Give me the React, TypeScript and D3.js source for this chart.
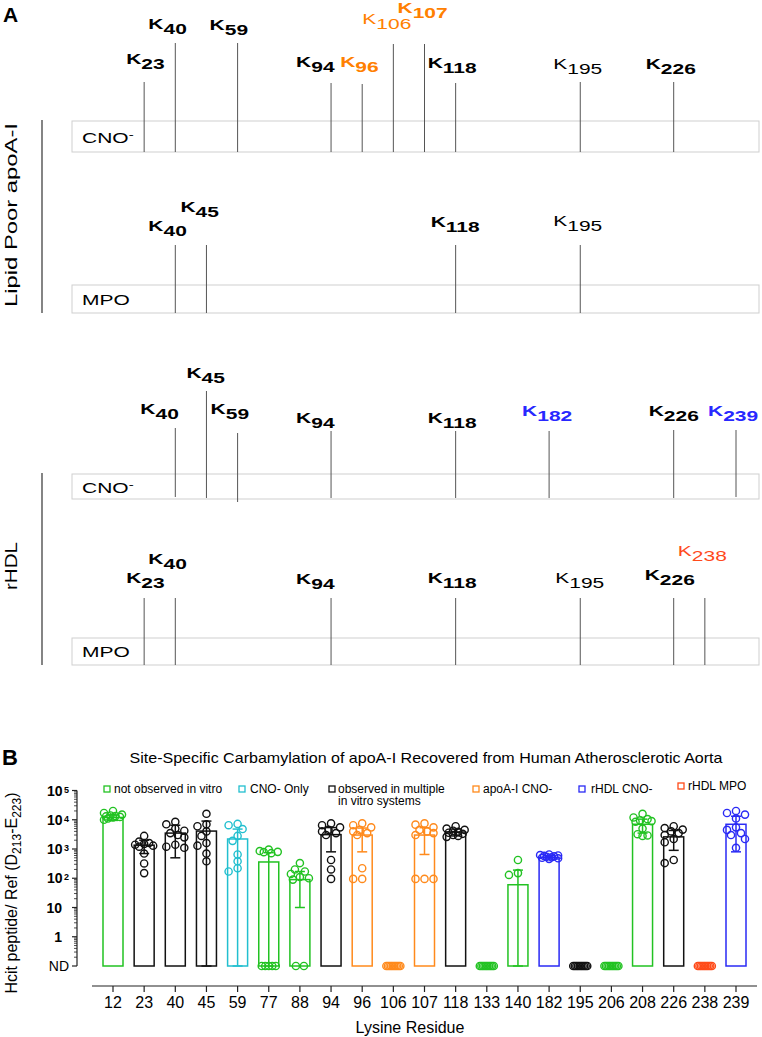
import React from 'react';
import * as d3 from 'd3';

// ---------- DATA ----------
const residues = [12, 23, 40, 45, 59, 77, 88, 94, 96, 106, 107, 118, 133, 140, 182, 195, 206, 208, 226, 238, 239];
const residueGroup = ['none', 'multi', 'multi', 'multi', 'cno', 'none', 'none', 'multi', 'apoCno', 'apoCno', 'apoCno', 'multi', 'none', 'none', 'rhdlCno', 'multi', 'none', 'none', 'multi', 'rhdlMpo', 'rhdlCno'];
const means = [12000, 1350, 3500, 4100, 2200, 360, 90, 3100, 3000, 0, 3000, 3800, 0, 60, 520, 0, 0, 7000, 2600, 0, 7000];
const sds = [2500, 650, 3000, 4900, 2600, 390, 80, 2300, 2200, 0, 2350, 1000, 0, 130, 70, 0, 0, 3500, 1700, 0, 6200];
const points: number[][] = [
  [20000, 17000, 15000, 14000, 13500, 13000, 12500, 12000, 11000, 10000],
  [2800, 1800, 1600, 1500, 1400, 1300, 1200, 700, 320, 150],
  [8500, 7000, 5000, 4200, 3500, 3000, 2500, 1400, 1200, 1100],
  [16000, 7000, 6000, 4000, 2800, 1600, 1300, 700, 380],
  [7200, 6500, 4800, 2800, 1900, 650, 380, 220, 170],
  [950, 850, 800, 780, 720, 0, 0, 0, 0, 0],
  [330, 200, 170, 140, 110, 100, 90, 0, 0],
  [7500, 6500, 5500, 4500, 4000, 3500, 3000, 420, 200, 95],
  [7500, 6500, 5500, 4500, 4000, 3500, 3000, 220, 95, 95],
  [0, 0, 0, 0, 0, 0, 0, 0, 0, 0],
  [7500, 6800, 5500, 4500, 4000, 3500, 3000, 95, 95, 95],
  [6000, 5000, 4500, 4200, 3900, 3600, 3300, 3000, 2800, 2600],
  [0, 0, 0, 0, 0, 0, 0, 0, 0, 0],
  [420, 150, 130],
  [650, 620, 600, 580, 560, 540, 520, 500, 480, 460],
  [0, 0, 0, 0, 0, 0, 0, 0, 0, 0],
  [0, 0, 0, 0, 0, 0, 0, 0, 0, 0],
  [16000, 12000, 10500, 9500, 9000, 8500, 5000, 3200, 2900, 2800],
  [6000, 5200, 4600, 4000, 3500, 3000, 2200, 1700, 420, 330],
  [0, 0, 0, 0, 0, 0, 0, 0, 0, 0],
  [20000, 17000, 15000, 11000, 5500, 4500, 3500, 3000, 2200, 1100],
];

const legendKeys = ['none', 'cno', 'multi', 'apoCno', 'rhdlCno', 'rhdlMpo'];
const legendLabels = [['not observed in vitro'], ['CNO- Only'], ['observed in multiple', 'in vitro systems'], ['apoA-I CNO-'], ['rHDL CNO-'], ['rHDL MPO']];
const yTickValues = [0.1, 1, 10, 100, 1000, 10000, 100000];

const chartTitle = 'Site-Specific Carbamylation of apoA-I Recovered from Human Atherosclerotic Aorta';
const xTitle = 'Lysine Residue';

// Panel A rows
const lpCnoRes = [23, 40, 59, 94, 96, 106, 107, 118, 195, 226];
const lpCnoGroup = ['multi', 'multi', 'multi', 'multi', 'apoCno', 'apoCno', 'apoCno', 'multi', 'multi', 'multi'];
const lpCnoBold = [1, 1, 1, 1, 1, 0, 1, 1, 0, 1];

const lpMpoRes = [40, 45, 118, 195];
const lpMpoGroup = ['multi', 'multi', 'multi', 'multi'];
const lpMpoBold = [1, 1, 1, 0];

const rhCnoRes = [40, 45, 59, 94, 118, 182, 226, 239];
const rhCnoGroup = ['multi', 'multi', 'multi', 'multi', 'multi', 'rhdlCno', 'multi', 'rhdlCno'];
const rhCnoBold = [1, 1, 1, 1, 1, 1, 1, 1];

const rhMpoRes = [23, 40, 94, 118, 195, 226, 238];
const rhMpoGroup = ['multi', 'multi', 'multi', 'multi', 'multi', 'multi', 'rhdlMpo'];
const rhMpoBold = [1, 1, 1, 1, 0, 1, 0];

// ---------- STYLE / LAYOUT ----------
const FONT = '"Liberation Sans", Arial, Helvetica, sans-serif';
const barColors: Record<string, string> = {
  none: '#22c222',
  cno: '#22bfcf',
  multi: '#111111',
  apoCno: '#ff8a1c',
  rhdlCno: '#2a2af5',
  rhdlMpo: '#ff4a18',
};
const labelColors: Record<string, string> = {
  multi: '#000000',
  apoCno: '#ff8000',
  rhdlCno: '#2828ff',
  rhdlMpo: '#ff4a1c',
};

const rowsLayout = [
  {
    res: lpCnoRes, group: lpCnoGroup, bold: lpCnoBold, name: 'CNO', sup: '-',
    box: [121, 152], nameY: 143,
    lineTop: [82, 43, 43, 83, 84, 44, 44, 83, 82, 82],
    lineBot: [152, 152, 152, 152, 152, 152, 152, 152, 152, 152],
    labY: [64, 29, 30, 67, 67, 24, 13, 68, 69, 69],
    labDx: [-18, -27, -28, -35, -22, -31, -27, -28, -27, -28],
  },
  {
    res: lpMpoRes, group: lpMpoGroup, bold: lpMpoBold, name: 'MPO', sup: '',
    box: [285, 313], nameY: 305,
    lineTop: [245, 245, 245, 245],
    lineBot: [313, 313, 313, 313],
    labY: [231, 212, 227, 226],
    labDx: [-27, -26, -25, -27],
  },
  {
    res: rhCnoRes, group: rhCnoGroup, bold: rhCnoBold, name: 'CNO', sup: '-',
    box: [474, 499], nameY: 493,
    lineTop: [428, 391, 433, 431, 431, 431, 430, 430],
    lineBot: [497, 498, 502, 498, 498, 498, 498, 497],
    labY: [414, 378, 414, 423, 423, 416, 416, 416],
    labDx: [-35, -20, -27, -35, -28, -27, -25, -28],
  },
  {
    res: rhMpoRes, group: rhMpoGroup, bold: rhMpoBold, name: 'MPO', sup: '',
    box: [638, 665], nameY: 657,
    lineTop: [598, 598, 598, 598, 598, 598, 598],
    lineBot: [665, 665, 665, 665, 665, 665, 665],
    labY: [583, 564, 584, 583, 583, 580, 556],
    labDx: [-18, -27, -35, -28, -25, -29, -27],
  },
];

const legendLayout = [
  { sx: 104, tx: 114, sy: 786 },
  { sx: 239, tx: 250, sy: 786 },
  { sx: 329, tx: 338, sy: 786 },
  { sx: 473, tx: 483, sy: 786 },
  { sx: 579, tx: 591, sy: 786 },
  { sx: 678, tx: 688, sy: 783 },
];

const R = 3.6;

function layoutPoints(vals: number[], y: (v: number) => number) {
  const nd = vals.filter((v) => v <= 0);
  const pos = vals.filter((v) => v > 0).sort((a, b) => b - a);
  const placed: { x: number; y: number; v: number }[] = [];
  const cands = [0, -5, 5, -9, 9, -2.5, 2.5, -7, 7];
  pos.forEach((v) => {
    const yy = y(v);
    let best = cands[0];
    let bestD = -1;
    for (const c of cands) {
      let md = Infinity;
      placed.forEach((p) => {
        const d = Math.hypot(p.x - c, p.y - yy);
        if (d < md) md = d;
      });
      if (md >= 6.5) { best = c; bestD = md; break; }
      if (md > bestD) { bestD = md; best = c; }
    }
    placed.push({ x: best, y: yy, v });
  });
  const n = nd.length;
  nd.forEach((v, i) => {
    const off = n === 1 ? 0 : -7 + (14 * i) / (n - 1);
    placed.push({ x: n === 2 ? (i === 0 ? -4 : 4) : off, y: y(0.1), v });
  });
  return placed;
}

export default function App() {
  const x = d3.scalePoint<string>().domain(residues.map(String)).range([113, 736]);
  const y = d3.scaleLog().domain([0.1, 100000]).range([966, 790.5]);
  const xr = (r: number) => x(String(r)) as number;

  const minorTicks: number[] = [];
  for (let k = -1; k <= 4; k++) for (let m = 2; m <= 9; m++) minorTicks.push(m * Math.pow(10, k));

  const labelK = (r: number, lx: number, ly: number, bold: number, color: string, key: string) => (
    <text key={key} transform={`translate(${lx},${ly}) scale(1.4,1)`} fontSize={15} fontWeight={bold ? 'bold' : 'normal'} fill={color} fontFamily={FONT}>
      <tspan>K</tspan>
      <tspan dy={5}>{r}</tspan>
    </text>
  );

  return (
    <svg width={762} height={1037} style={{ position: 'absolute', left: 0, top: 0, background: '#fff' }} fontFamily={FONT}>
      <rect x={0} y={0} width={762} height={1037} fill="#fff" />
      {/* Panel A */}
      <text x={3} y={22} fontSize={21} fontWeight="bold">A</text>
      <line x1={42} x2={42} y1={120} y2={313} stroke="#333" strokeWidth={1.2} />
      <line x1={42} x2={42} y1={473} y2={665} stroke="#333" strokeWidth={1.2} />
      <text transform={`translate(17,215) rotate(-90)`} textAnchor="middle" fontSize={17} textLength={184} lengthAdjust="spacingAndGlyphs">Lipid Poor apoA-I</text>
      <text transform={`translate(17,566) rotate(-90)`} textAnchor="middle" fontSize={17} textLength={48} lengthAdjust="spacingAndGlyphs">rHDL</text>

      {rowsLayout.map((row, ri) => (
        <g key={`row${ri}`}>
          <rect x={72} y={row.box[0]} width={759 - 72} height={row.box[1] - row.box[0]} fill="none" stroke="#cfcfcf" strokeWidth={1} />
          <text transform={`translate(82,${row.nameY}) scale(1.5,1)`} fontSize={14}>
            <tspan>{row.name}</tspan>
            {row.sup ? <tspan dy={-5} fontSize={10}>{row.sup}</tspan> : null}
          </text>
          {row.res.map((r, i) => {
            const cx = xr(r);
            return (
              <g key={`l${ri}-${i}`}>
                <line x1={cx} x2={cx} y1={row.lineTop[i]} y2={row.lineBot[i]} stroke="#555" strokeWidth={1} />
                {labelK(r, cx + row.labDx[i], row.labY[i], row.bold[i], labelColors[row.group[i]], `k${ri}-${i}`)}
              </g>
            );
          })}
        </g>
      ))}

      {/* Panel B */}
      <text x={2} y={765} fontSize={22} fontWeight="bold">B</text>
      <text x={426} y={763} textAnchor="middle" fontSize={15} textLength={593} lengthAdjust="spacingAndGlyphs">{chartTitle}</text>

      {legendKeys.map((k, i) => (
        <g key={`lg${i}`}>
          <rect x={legendLayout[i].sx} y={legendLayout[i].sy} width={6} height={6} fill="none" stroke={barColors[k]} strokeWidth={1.3} />
          {legendLabels[i].map((t, j) => (
            <text key={j} x={legendLayout[i].tx} y={legendLayout[i].sy + 7 + j * 12} fontSize={12}>{t}</text>
          ))}
        </g>
      ))}

      {/* Y axis */}
      <line x1={77} x2={77} y1={y(100000)} y2={y(0.1)} stroke="#222" strokeWidth={1.2} />
      {minorTicks.map((v, i) => (
        <line key={`mt${i}`} x1={74} x2={77} y1={y(v)} y2={y(v)} stroke="#222" strokeWidth={0.8} />
      ))}
      {yTickValues.map((v, i) => {
        const yy = y(v);
        const exp = Math.round(Math.log10(v));
        let lab: React.ReactNode;
        if (v === 0.1) lab = <text x={69} y={yy + 5} textAnchor="end" fontSize={14}>ND</text>;
        else if (exp >= 2) lab = (
          <text x={69} y={yy + 5} textAnchor="end" fontSize={14} fontWeight="bold">
            10<tspan fontSize={9} dx={1.5} dy={-3}>{exp}</tspan>
          </text>
        );
        else lab = <text x={62} y={yy + 5} textAnchor="end" fontSize={14} fontWeight="bold">{exp === 1 ? '10' : '1'}</text>;
        return (
          <g key={`yt${i}`}>
            <line x1={72} x2={77} y1={yy} y2={yy} stroke="#222" strokeWidth={1.2} />
            {lab}
          </g>
        );
      })}
      <text transform={`translate(17,893) rotate(-90)`} textAnchor="middle" fontSize={16}>
        <tspan>Hcit peptide/ Ref (D</tspan>
        <tspan fontSize={12} dy={4}>213</tspan>
        <tspan dy={-4}>-E</tspan>
        <tspan fontSize={12} dy={4}>223</tspan>
        <tspan dy={-4}>)</tspan>
      </text>

      {/* X axis */}
      <line x1={92} x2={757} y1={986} y2={986} stroke="#222" strokeWidth={1.2} />
      {residues.map((r) => (
        <g key={`xt${r}`}>
          <line x1={xr(r)} x2={xr(r)} y1={986} y2={992} stroke="#222" strokeWidth={1.2} />
          <text x={xr(r)} y={1008} textAnchor="middle" fontSize={16}>{r}</text>
        </g>
      ))}
      <text x={410} y={1033} textAnchor="middle" fontSize={16}>{xTitle}</text>

      {/* Bars */}
      {residues.map((r, i) => {
        const m = means[i];
        if (m <= 0) return null;
        const col = barColors[residueGroup[i]];
        const cx = xr(r);
        const top = y(m);
        return (
          <rect key={`bar${r}`} x={cx - 10} y={top} width={20} height={y(0.1) - top} fill="#fff" stroke={col} strokeWidth={1.5} />
        );
      })}
      {/* Error bars */}
      {residues.map((r, i) => {
        const m = means[i];
        if (m <= 0) return null;
        const col = barColors[residueGroup[i]];
        const cx = xr(r);
        const hi = y(m + sds[i]);
        const lowV = m - sds[i];
        const lo = lowV > 0.1 ? y(lowV) : y(0.1);
        return (
          <g key={`err${r}`} stroke={col} strokeWidth={1.5}>
            <line x1={cx} x2={cx} y1={hi} y2={lo} />
            <line x1={cx - 5} x2={cx + 5} y1={hi} y2={hi} />
            <line x1={cx - 5} x2={cx + 5} y1={lo} y2={lo} />
          </g>
        );
      })}
      {/* Points */}
      {residues.map((r, i) => {
        const col = barColors[residueGroup[i]];
        const cx = xr(r);
        const pts = layoutPoints(points[i], (v) => y(v));
        return (
          <g key={`pts${r}`} fill="none" stroke={col} strokeWidth={1.4}>
            {pts.map((p, j) => (
              <circle key={j} cx={cx + p.x} cy={p.y} r={R} />
            ))}
          </g>
        );
      })}
    </svg>
  );
}
